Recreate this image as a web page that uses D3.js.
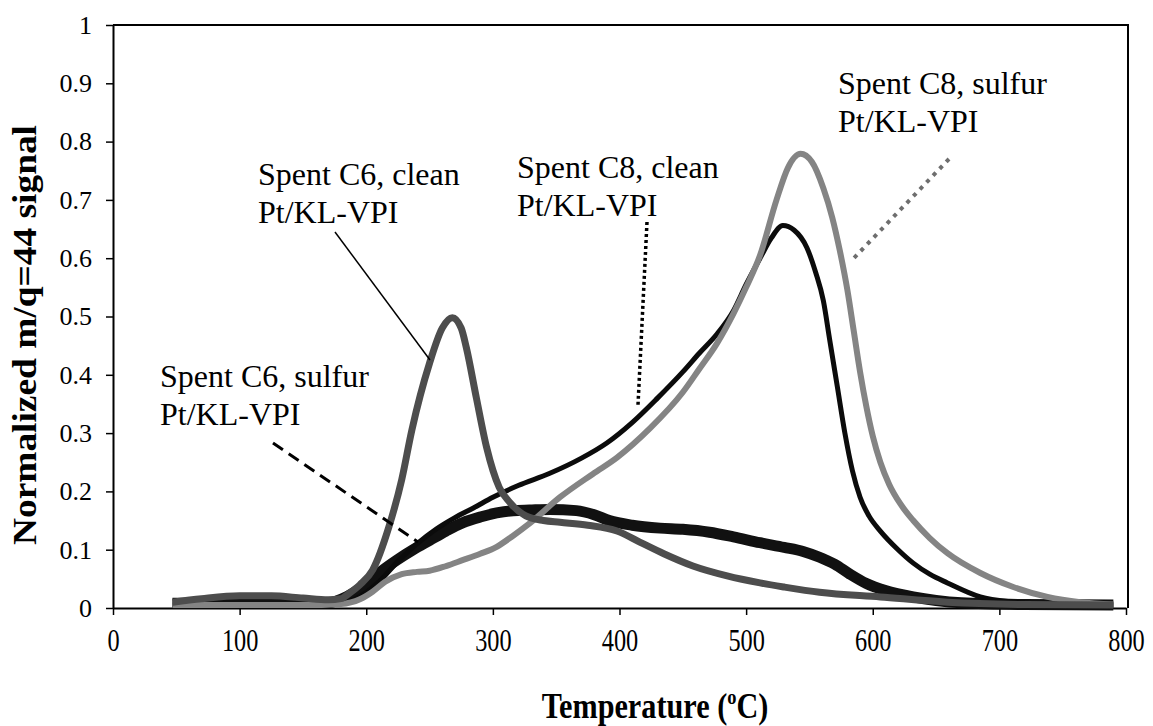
<!DOCTYPE html>
<html>
<head>
<meta charset="utf-8">
<script src="https://cdn.jsdelivr.net/npm/d3@7"></script>
<style>
  html, body { margin: 0; padding: 0; background: #fff; }
  svg { display: block; font-family: "Liberation Serif", "Times New Roman", serif; }
</style>
</head>
<body>
<svg id="chart" width="1153" height="726"></svg>
<script>
// Temperature-programmed oxidation profiles (m/q = 44) of spent Pt/KL-VPI catalysts
const xTicks = [0, 100, 200, 300, 400, 500, 600, 700, 800];
const yTicks = [0, 0.1, 0.2, 0.3, 0.4, 0.5, 0.6, 0.7, 0.8, 0.9, 1];
const yTickLabels = ["0", "0.1", "0.2", "0.3", "0.4", "0.5", "0.6", "0.7", "0.8", "0.9", "1"];

// Spent C6, clean Pt/KL-VPI
const c6CleanT = [47, 70, 100, 125, 150, 170, 180, 187, 195, 205, 218, 228, 236, 250, 260, 268, 275, 279, 287, 295, 305, 313, 326, 340, 353, 375, 398, 416, 435, 458, 485, 511, 530, 558, 606, 659, 720, 790];
const c6CleanV = [0.01, 0.016, 0.021, 0.021, 0.017, 0.014, 0.016, 0.026, 0.04, 0.065, 0.14, 0.22, 0.305, 0.42, 0.48, 0.498, 0.48, 0.447, 0.36, 0.276, 0.207, 0.182, 0.158, 0.15, 0.147, 0.142, 0.132, 0.113, 0.093, 0.072, 0.055, 0.043, 0.036, 0.027, 0.019, 0.01, 0.006, 0.005];

// Spent C6, sulfur Pt/KL-VPI
const c6SulfurT = [47, 100, 150, 170, 185, 197, 210, 224, 237, 250, 263, 276, 290, 303, 316, 329, 345, 366, 380, 392, 410, 432, 450, 471, 490, 511, 530, 545, 558, 570, 582, 595, 610, 632, 650, 670, 720, 790];
const c6SulfurV = [0.008, 0.009, 0.008, 0.009, 0.02, 0.036, 0.06, 0.082, 0.1, 0.116, 0.132, 0.146, 0.156, 0.163, 0.167, 0.168, 0.169, 0.167, 0.16, 0.15, 0.142, 0.137, 0.135, 0.13, 0.122, 0.112, 0.104, 0.097, 0.087, 0.075, 0.058, 0.042, 0.03, 0.019, 0.013, 0.009, 0.006, 0.005];

// Spent C8, clean Pt/KL-VPI
const c8CleanT = [47, 150, 180, 195, 210, 225, 240, 255, 270, 285, 300, 320, 345, 370, 390, 410, 430, 450, 463, 477, 490, 500, 511, 520, 529, 538, 548, 555, 561, 566, 572, 578, 584, 590, 597, 606, 620, 632, 645, 659, 685, 711, 740, 790];
const c8CleanV = [0.005, 0.005, 0.008, 0.02, 0.045, 0.08, 0.11, 0.135, 0.155, 0.172, 0.19, 0.21, 0.231, 0.257, 0.283, 0.318, 0.36, 0.405, 0.437, 0.47, 0.51, 0.555, 0.6, 0.635, 0.656, 0.648, 0.618, 0.575, 0.527, 0.46, 0.38, 0.3, 0.235, 0.19, 0.158, 0.132, 0.1, 0.077, 0.058, 0.043, 0.019, 0.01, 0.006, 0.005];

// Spent C8, sulfur Pt/KL-VPI
const c8SulfurT = [47, 150, 180, 195, 205, 215, 228, 240, 250, 263, 276, 290, 303, 316, 329, 353, 379, 398, 424, 450, 463, 477, 490, 500, 511, 524, 533, 543, 552, 561, 568, 574, 580, 585, 590, 595, 600, 606, 613, 622, 632, 645, 659, 685, 711, 738, 764, 790];
const c8SulfurV = [0.005, 0.005, 0.007, 0.015, 0.028, 0.045, 0.058, 0.062, 0.064, 0.072, 0.082, 0.093, 0.105, 0.124, 0.145, 0.19, 0.23, 0.258, 0.308, 0.37, 0.41, 0.454, 0.505, 0.55, 0.605, 0.7, 0.755, 0.779, 0.765, 0.72, 0.67, 0.613, 0.545, 0.475, 0.405, 0.345, 0.295, 0.25, 0.212, 0.178, 0.15, 0.12, 0.094, 0.06, 0.036, 0.019, 0.01, 0.006];

const svg = d3.select("#chart");
const plotLeft = 113, plotRight = 1126, plotTop = 25, plotBottom = 608;

const x = d3.scaleLinear().domain([0, 800]).range([plotLeft, plotRight]);
const y = d3.scaleLinear().domain([0, 1]).range([plotBottom, plotTop]);

// plot frame (top and right edges)
svg.append("path")
  .attr("d", `M${plotLeft},${plotTop}H${plotRight + 2}V${plotBottom}`)
  .attr("fill", "none").attr("stroke", "#000").attr("stroke-width", 2);

// x axis
const gx = svg.append("g").attr("transform", `translate(0,${plotBottom})`)
  .call(d3.axisBottom(x).tickValues(xTicks).tickSize(7).tickSizeOuter(0).tickFormat(d3.format("d")));
gx.select(".domain").attr("stroke", "#000").attr("stroke-width", 2);
gx.selectAll(".tick line").attr("stroke", "#000").attr("stroke-width", 1.5);
gx.selectAll(".tick text")
  .attr("y", 43).attr("dy", 0)
  .attr("font-size", 32).attr("fill", "#000")
  .attr("font-family", "'Liberation Serif', serif")
  .attr("transform", "scale(0.76,1)");

// y axis
const gy = svg.append("g").attr("transform", `translate(${plotLeft},0)`)
  .call(d3.axisLeft(y).tickValues(yTicks).tickSize(7).tickSizeOuter(0).tickPadding(14)
    .tickFormat((d, i) => yTickLabels[i]));
gy.select(".domain").attr("stroke", "#000").attr("stroke-width", 2);
gy.selectAll(".tick line").attr("stroke", "#000").attr("stroke-width", 1.5);
gy.selectAll(".tick text")
  .attr("font-size", 26).attr("fill", "#000")
  .attr("font-family", "'Liberation Serif', serif");

// axis titles
svg.append("text")
  .attr("transform", "translate(36,335) rotate(-90)")
  .attr("text-anchor", "middle")
  .attr("font-size", 34).attr("font-weight", "bold")
  .attr("textLength", 420).attr("lengthAdjust", "spacingAndGlyphs")
  .text("Normalized m/q=44 signal");

const xt = svg.append("text")
  .attr("transform", "translate(655,718) scale(0.84,1)")
  .attr("text-anchor", "middle")
  .attr("font-size", 36).attr("font-weight", "bold");
xt.append("tspan").text("Temperature (");
xt.append("tspan").attr("font-size", 22).attr("dy", -14).text("o");
xt.append("tspan").attr("dy", 14).text("C)");

// series
const line = d3.line().x(d => x(d[0])).y(d => y(d[1])).curve(d3.curveMonotoneX);
const series = [
  { t: c6SulfurT, v: c6SulfurV, color: "#111", width: 11 },
  { t: c8CleanT, v: c8CleanV, color: "#0b0b0b", width: 5 },
  { t: c8SulfurT, v: c8SulfurV, color: "#848484", width: 6 },
  { t: c6CleanT, v: c6CleanV, color: "#4d4d4d", width: 7 }
];
series.forEach(s => {
  svg.append("path")
    .datum(s.t.map((t, i) => [t, s.v[i]]))
    .attr("d", line)
    .attr("fill", "none")
    .attr("stroke", s.color)
    .attr("stroke-width", s.width)
    .attr("stroke-linejoin", "round")
    .attr("stroke-linecap", "butt");
});

// annotations with leader lines
const notes = [
  { lines: ["Spent C6, clean", "Pt/KL-VPI"], x: 258, y: 185, leader: [[335, 232], [430, 360]], color: "#000", width: 1.5, dash: null },
  { lines: ["Spent C6, sulfur", "Pt/KL-VPI"], x: 160, y: 387, leader: [[273, 443], [418, 542]], color: "#000", width: 3, dash: "12,7" },
  { lines: ["Spent C8, clean", "Pt/KL-VPI"], x: 517, y: 178, leader: [[647, 222], [638, 405]], color: "#000", width: 3.5, dash: "3,3" },
  { lines: ["Spent C8, sulfur", "Pt/KL-VPI"], x: 838, y: 94, leader: [[949, 159], [854, 258]], color: "#6e6e6e", width: 4, dash: "4,5.5" }
];
notes.forEach(n => {
  const t = svg.append("text").attr("font-size", 32).attr("fill", "#000");
  n.lines.forEach((s, i) => t.append("tspan").attr("x", n.x).attr("y", n.y + i * 37.5).text(s));
  svg.append("line")
    .attr("x1", n.leader[0][0]).attr("y1", n.leader[0][1])
    .attr("x2", n.leader[1][0]).attr("y2", n.leader[1][1])
    .attr("stroke", n.color).attr("stroke-width", n.width)
    .attr("stroke-dasharray", n.dash);
});
</script>
</body>
</html>
